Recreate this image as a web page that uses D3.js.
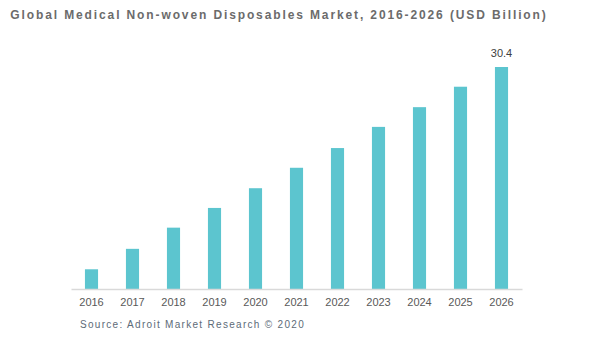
<!DOCTYPE html>
<html>
<head>
<meta charset="utf-8">
<script src="https://cdn.jsdelivr.net/npm/d3@7"></script>
<style>
body { margin: 0; background: #fff; }
text { font-family: "Liberation Sans", Arial, sans-serif; }
</style>
</head>
<body>
<div id="chart"></div>
<script>
let svgWidth = 599;
let svgHeight = 338;

// data
let years = ["2016", "2017", "2018", "2019", "2020", "2021", "2022", "2023", "2024", "2025", "2026"];
let values = [2.7, 5.5, 8.4, 11.1, 13.8, 16.6, 19.3, 22.2, 24.9, 27.7, 30.4];
let labelled = ["2026"];

let margin = { top: 67, right: 77, bottom: 49, left: 71 };
let width = svgWidth - margin.left - margin.right;
let height = svgHeight - margin.top - margin.bottom;

let svg = d3.select("#chart")
  .append("svg")
  .attr("width", svgWidth)
  .attr("height", svgHeight);

svg.append("text")
  .attr("x", 279)
  .attr("y", 19)
  .attr("text-anchor", "middle")
  .attr("font-size", 12)
  .attr("font-weight", "bold")
  .attr("letter-spacing", 1.88)
  .attr("fill", "#6b6b6b")
  .text("Global Medical Non-woven Disposables Market, 2016-2026 (USD Billion)");

let chartGroup = svg.append("g")
  .attr("transform", `translate(${margin.left}, ${margin.top})`);

let x = d3.scaleBand()
  .domain(years)
  .range([0, width])
  .paddingInner(0.68)
  .paddingOuter(0.34);

let y = d3.scaleLinear()
  .domain([0, d3.max(values)])
  .range([height, 0]);

chartGroup.selectAll("rect.bar")
  .data(years)
  .enter()
  .append("rect")
  .attr("class", "bar")
  .attr("x", d => x(d))
  .attr("y", (d, i) => y(values[i]))
  .attr("width", x.bandwidth())
  .attr("height", (d, i) => height - y(values[i]))
  .attr("fill", "#5cc5cf");

// value label on last bar
chartGroup.selectAll("text.val")
  .data(years.filter(d => labelled.includes(d)))
  .enter()
  .append("text")
  .attr("class", "val")
  .attr("x", d => x(d) + x.bandwidth() / 2)
  .attr("y", d => y(values[years.indexOf(d)]) - 10)
  .attr("text-anchor", "middle")
  .attr("font-size", 11)
  .attr("fill", "#404040")
  .text(d => values[years.indexOf(d)].toFixed(1));

// x axis
let xAxis = chartGroup.append("g")
  .attr("transform", `translate(0, ${height})`)
  .call(d3.axisBottom(x).tickSize(0).tickPadding(9));

xAxis.select(".domain")
  .attr("stroke", "#d9d9d9")
  .attr("stroke-width", 1.5);

xAxis.selectAll("text")
  .attr("font-size", 11)
  .attr("font-family", "'Liberation Sans', Arial, sans-serif")
  .attr("fill", "#595959");

svg.append("text")
  .attr("x", 80)
  .attr("y", 328)
  .attr("font-size", 10)
  .attr("letter-spacing", 1.3)
  .attr("fill", "#5d6b78")
  .text("Source: Adroit Market Research © 2020");
</script>
</body>
</html>
